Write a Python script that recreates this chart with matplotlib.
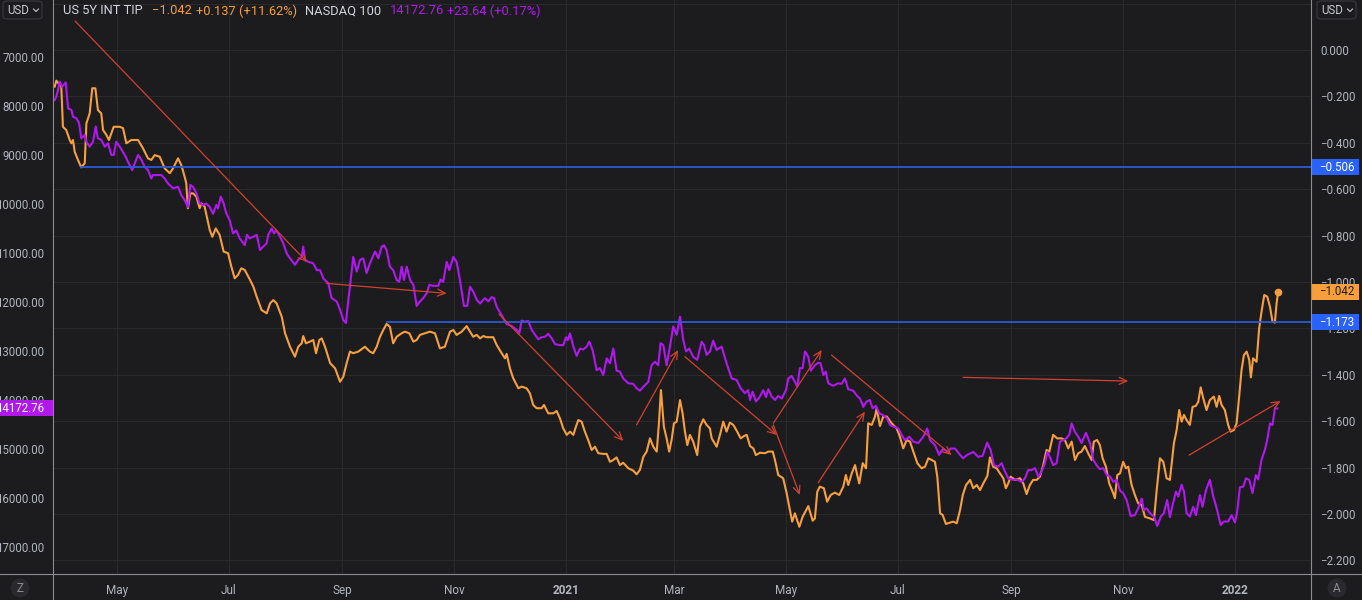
# US 5Y INT TIP (eixo direito) contra NASDAQ 100 (eixo esquerdo, invertido), estilo TradingView escuro.

import pandas as pd
import matplotlib
matplotlib.use('Agg')
import matplotlib.pyplot as plt
import matplotlib.dates as mdates
import matplotlib.transforms as mtransforms
from matplotlib.patches import Rectangle, FancyBboxPatch, Circle
from matplotlib.lines import Line2D

plt.rcParams['font.family'] = ['Roboto', 'DejaVu Sans']

# Dados (dias contados a partir de 27/03/2020)
inicio = pd.Timestamp('2020-03-27')

tip_dias = [1.0, 1.9, 3.7, 4.6, 5.5, 7.3, 9.2, 10.1, 11.0, 11.9, 13.7, 15.5, 17.4, 18.3, 20.1, 21.5, 23.2, 24.6,
            26.4, 27.4, 29.2, 30.6, 31.9, 33.2, 36.5, 38.3, 40.1, 42.8, 46.5, 49.2, 51.9, 53.7, 55.6, 58.3, 61.0,
            63.8, 65.6, 68.3, 70.1, 71.9, 72.8, 73.7, 75.0, 76.5, 78.3, 80.1, 81.0, 82.8, 85.6, 87.0, 88.9, 91.0,
            93.2, 95.6, 97.4, 99.2, 101.0, 102.8, 104.7, 107.6, 109.4, 111.2, 113.9, 116.7, 118.5, 120.3, 122.1,
            124.9, 126.7, 129.4, 132.1, 133.9, 135.8, 136.6, 138.1, 140.3, 142.1, 143.6, 145.4, 146.7, 148.5,
            151.3, 154.0, 156.7, 158.5, 160.3, 162.1, 163.9, 166.7, 170.3, 173.0, 174.8, 176.7, 178.5, 180.3,
            182.1, 183.9, 185.7, 187.6, 190.3, 192.1, 194.5, 196.7, 198.5, 200.3, 203.0, 205.8, 208.5, 211.2,
            213.9, 216.7, 218.5, 220.3, 223.1, 225.8, 227.6, 229.4, 231.3, 233.1, 234.9, 236.7, 240.3, 242.2,
            244.9, 246.7, 247.6, 249.4, 251.2, 254.0, 255.8, 258.5, 260.3, 262.1, 264.0, 266.7, 268.0, 270.3,
            273.0, 274.9, 276.7, 278.5, 280.4, 282.2, 284.0, 285.4, 286.7, 288.5, 290.3, 292.1, 294.0, 295.8,
            297.6, 300.3, 302.2, 304.0, 305.8, 307.6, 309.4, 311.2, 314.0, 316.7, 318.5, 320.3, 322.2, 324.0,
            325.8, 327.6, 329.5, 330.7, 331.8, 333.4, 334.9, 336.3, 337.6, 338.9, 340.4, 342.2, 343.6, 344.9,
            346.2, 347.6, 349.4, 351.6, 353.1, 354.9, 356.7, 358.5, 359.5, 362.2, 364.0, 365.8, 367.6, 369.4,
            371.3, 373.4, 375.3, 377.1, 378.6, 380.4, 382.2, 383.6, 385.8, 388.5, 390.4, 392.8, 394.0, 395.8,
            398.5, 400.4, 402.2, 403.4, 404.9, 407.3, 409.1, 412.2, 414.6, 415.8, 417.1, 418.5, 420.7, 422.5,
            424.4, 426.7, 429.1, 431.3, 432.7, 434.0, 435.9, 437.7, 438.9, 440.0, 441.9, 443.7, 444.9, 446.8,
            448.6, 449.5, 451.3, 453.1, 455.0, 457.7, 460.4, 462.2, 464.0, 465.9, 467.7, 469.5, 471.7, 474.0,
            475.9, 477.7, 479.5, 481.3, 482.6, 484.1, 485.5, 487.3, 489.5, 491.3, 493.2, 495.0, 496.5, 498.3,
            500.5, 502.2, 504.1, 505.9, 507.7, 509.9, 511.3, 513.1, 515.0, 516.8, 518.6, 520.0, 521.3, 522.6,
            525.0, 527.7, 529.5, 531.3, 533.1, 534.9, 536.8, 538.6, 540.4, 542.2, 543.7, 545.8, 548.0, 550.4,
            552.2, 554.0, 555.9, 557.7, 559.5, 561.3, 563.1, 564.9, 566.8, 568.0, 569.8, 571.3, 572.8, 574.6,
            576.4, 578.6, 579.5, 580.8, 582.3, 584.0, 585.5, 586.8, 588.6, 590.4, 592.2, 594.1, 595.9, 598.6,
            600.8, 602.3, 604.1, 605.9, 607.7, 609.5, 611.7, 613.2, 614.6, 615.9, 617.2, 618.6, 620.4, 621.9,
            623.7, 625.0, 626.3, 627.7, 629.5, 631.3, 633.5, 635.0, 636.4, 637.7, 639.5, 641.3, 642.6, 644.4,
            645.9, 647.3, 648.6, 649.9, 651.4, 652.8, 653.7, 654.9, 656.8, 658.2, 659.5, 661.0, 662.6, 664.1,
            665.5, 666.8, 667.7, 668.6]
tip_valores = [-0.158, -0.132, -0.151, -0.158, -0.331, -0.345, -0.388, -0.402, -0.388, -0.438, -0.474, -0.506,
               -0.488, -0.316, -0.273, -0.165, -0.165, -0.259, -0.273, -0.345, -0.366, -0.388, -0.359, -0.331,
               -0.331, -0.337, -0.402, -0.388, -0.388, -0.424, -0.467, -0.474, -0.453, -0.460, -0.510, -0.531,
               -0.510, -0.467, -0.496, -0.546, -0.575, -0.682, -0.618, -0.618, -0.632, -0.682, -0.661, -0.675,
               -0.776, -0.805, -0.769, -0.797, -0.869, -0.876, -0.934, -0.984, -0.970, -0.941, -0.948, -0.991,
               -1.020, -1.063, -1.121, -1.135, -1.092, -1.078, -1.092, -1.150, -1.221, -1.279, -1.322, -1.279,
               -1.264, -1.233, -1.264, -1.257, -1.250, -1.307, -1.250, -1.243, -1.279, -1.350, -1.372, -1.430,
               -1.408, -1.350, -1.300, -1.307, -1.300, -1.279, -1.300, -1.307, -1.279, -1.236, -1.207, -1.181,
               -1.193, -1.264, -1.236, -1.221, -1.214, -1.221, -1.257, -1.250, -1.228, -1.221, -1.214, -1.221,
               -1.286, -1.279, -1.214, -1.207, -1.228, -1.214, -1.190, -1.214, -1.236, -1.228, -1.243, -1.233,
               -1.238, -1.238, -1.272, -1.307, -1.329, -1.310, -1.372, -1.415, -1.458, -1.451, -1.458, -1.480,
               -1.530, -1.544, -1.544, -1.530, -1.566, -1.566, -1.556, -1.588, -1.631, -1.659, -1.645, -1.659,
               -1.624, -1.595, -1.602, -1.645, -1.681, -1.724, -1.710, -1.738, -1.741, -1.741, -1.775, -1.767,
               -1.756, -1.789, -1.779, -1.803, -1.813, -1.829, -1.810, -1.753, -1.731, -1.674, -1.710, -1.731,
               -1.609, -1.466, -1.624, -1.674, -1.731, -1.681, -1.609, -1.602, -1.509, -1.566, -1.645, -1.703,
               -1.659, -1.688, -1.746, -1.624, -1.592, -1.616, -1.631, -1.674, -1.710, -1.659, -1.602, -1.645,
               -1.606, -1.616, -1.645, -1.674, -1.664, -1.659, -1.707, -1.717, -1.746, -1.736, -1.738, -1.731,
               -1.731, -1.767, -1.832, -1.846, -1.911, -1.983, -2.033, -1.997, -2.055, -2.012, -1.966, -2.029,
               -2.019, -1.904, -1.882, -1.889, -1.947, -1.918, -1.908, -1.918, -1.882, -1.832, -1.875, -1.825,
               -1.789, -1.832, -1.868, -1.781, -1.803, -1.609, -1.616, -1.580, -1.544, -1.621, -1.580, -1.580,
               -1.609, -1.631, -1.667, -1.717, -1.681, -1.688, -1.731, -1.781, -1.803, -1.796, -1.760, -1.767,
               -1.775, -1.839, -1.997, -2.004, -2.043, -2.037, -2.033, -2.040, -1.983, -1.918, -1.875, -1.853,
               -1.889, -1.875, -1.897, -1.868, -1.836, -1.756, -1.796, -1.803, -1.825, -1.846, -1.889, -1.868,
               -1.839, -1.853, -1.846, -1.868, -1.914, -1.875, -1.853, -1.853, -1.839, -1.789, -1.724, -1.731,
               -1.659, -1.674, -1.674, -1.681, -1.717, -1.688, -1.767, -1.738, -1.731, -1.707, -1.738, -1.767,
               -1.688, -1.681, -1.703, -1.760, -1.796, -1.868, -1.911, -1.932, -1.832, -1.825, -1.775, -1.803,
               -1.796, -1.875, -1.918, -1.954, -1.961, -2.012, -2.019, -2.026, -1.897, -1.760, -1.775, -1.846,
               -1.853, -1.695, -1.638, -1.552, -1.602, -1.573, -1.595, -1.616, -1.538, -1.534, -1.516, -1.454,
               -1.501, -1.552, -1.509, -1.494, -1.538, -1.491, -1.530, -1.552, -1.616, -1.645, -1.638, -1.609,
               -1.494, -1.379, -1.315, -1.300, -1.336, -1.411, -1.329, -1.344, -1.200, -1.128, -1.056, -1.063,
               -1.106, -1.171, -1.175, -1.092, -1.042]

ndx_dias = [1.0, 1.9, 2.8, 3.7, 5.0, 5.9, 7.0, 8.3, 10.1, 11.0, 12.8, 14.3, 15.5, 17.4, 18.3, 20.1, 21.9, 23.4,
            24.6, 26.4, 28.3, 30.1, 31.9, 33.2, 34.6, 36.5, 39.2, 41.0, 43.3, 44.7, 46.5, 48.3, 50.1, 51.9, 53.7,
            54.6, 56.4, 59.2, 61.0, 62.8, 65.6, 68.3, 70.1, 71.9, 73.7, 75.0, 76.5, 78.3, 80.1, 81.9, 83.7, 85.6,
            87.4, 89.2, 90.1, 91.6, 93.2, 94.6, 96.5, 98.3, 100.1, 101.9, 104.7, 105.9, 107.4, 109.4, 111.2,
            113.0, 114.8, 116.7, 117.5, 119.4, 120.7, 121.8, 124.0, 125.7, 127.6, 129.4, 132.1, 133.9, 135.8,
            136.6, 137.6, 139.4, 142.1, 144.0, 145.8, 147.6, 150.3, 152.1, 154.9, 156.7, 158.5, 159.9, 161.2,
            162.1, 163.9, 165.8, 167.6, 169.4, 171.2, 173.0, 175.8, 177.6, 179.4, 180.7, 182.1, 183.9, 185.7,
            187.6, 189.0, 190.3, 191.6, 193.1, 194.9, 196.7, 198.5, 200.3, 202.1, 204.0, 205.4, 207.6, 210.3,
            211.6, 213.0, 214.9, 216.3, 218.5, 220.3, 222.1, 224.3, 226.1, 227.6, 229.4, 231.3, 233.1, 235.8,
            237.6, 239.4, 240.7, 242.2, 244.9, 247.6, 250.3, 253.1, 254.5, 255.8, 257.6, 259.4, 261.3, 263.1,
            264.9, 266.7, 268.5, 270.3, 272.2, 274.0, 276.7, 278.5, 280.0, 280.9, 282.2, 284.0, 285.8, 287.6,
            289.4, 291.3, 292.7, 294.5, 296.7, 298.5, 300.3, 302.2, 304.0, 305.8, 307.6, 309.4, 311.2, 314.0,
            316.7, 318.5, 320.3, 322.2, 324.9, 326.7, 328.5, 330.3, 331.6, 333.1, 334.9, 336.7, 338.5, 340.4,
            342.2, 344.0, 345.5, 347.2, 349.4, 351.6, 354.0, 355.3, 356.7, 358.5, 360.3, 362.2, 364.9, 367.6,
            370.4, 373.1, 375.3, 377.6, 379.4, 380.4, 381.8, 383.6, 385.8, 387.6, 389.1, 390.4, 392.2, 394.0,
            395.8, 397.7, 400.0, 401.3, 403.1, 404.9, 406.2, 407.6, 409.1, 410.4, 412.2, 413.6, 415.8, 417.6,
            418.9, 420.4, 421.7, 423.1, 425.8, 428.5, 430.4, 432.2, 434.0, 436.7, 438.9, 440.4, 442.2, 444.0,
            445.8, 447.3, 449.1, 450.9, 453.1, 455.0, 456.8, 458.5, 461.3, 463.1, 464.9, 467.3, 469.5, 472.2,
            474.9, 477.1, 478.6, 481.3, 483.6, 485.8, 488.0, 489.9, 492.2, 495.0, 496.7, 498.9, 502.2, 504.9,
            507.3, 509.8, 511.7, 513.5, 515.8, 517.7, 519.5, 521.3, 524.0, 525.9, 528.6, 530.4, 532.2, 534.1,
            535.9, 537.7, 539.5, 541.3, 542.6, 544.0, 545.8, 547.7, 549.5, 551.3, 553.1, 554.6, 555.9, 557.7,
            559.5, 561.3, 563.7, 565.9, 567.7, 569.5, 571.3, 573.1, 575.0, 576.8, 578.6, 580.4, 582.3, 584.0,
            585.9, 588.1, 590.4, 592.2, 594.1, 595.3, 596.8, 598.6, 600.8, 602.6, 604.5, 606.2, 608.0, 609.5,
            611.0, 612.8, 614.1, 615.9, 617.2, 618.6, 620.4, 622.2, 623.7, 625.9, 627.3, 629.2, 631.3, 633.2,
            635.3, 637.2, 639.0, 641.3, 643.2, 645.0, 646.2, 647.7, 649.5, 651.0, 652.8, 654.6, 656.4, 657.7,
            659.5, 661.3, 662.6, 664.1, 665.5, 666.8, 668.1]
ndx_valores = [7880, 7810, 7670, 7500, 7610, 7570, 7520, 8050, 8080, 8220, 8250, 8350, 8660, 8590, 8730, 8830,
               8730, 8420, 8660, 8690, 8830, 8760, 9000, 9000, 8730, 8830, 9000, 9140, 9310, 9170, 9000, 9100,
               9240, 9310, 9480, 9410, 9410, 9410, 9480, 9580, 9680, 9650, 9820, 9920, 10060, 9610, 9650, 9780,
               9990, 10020, 9990, 10060, 10200, 10020, 10090, 9850, 9990, 10190, 10330, 10600, 10540, 10700,
               10840, 10630, 10700, 10670, 10630, 10940, 10870, 10800, 10630, 10500, 10600, 10530, 10670, 10800,
               11010, 11110, 11240, 11140, 11080, 10870, 11140, 11180, 11210, 11350, 11350, 11520, 11620, 11920,
               11990, 12160, 12370, 12430, 11960, 11690, 11080, 11380, 11140, 11110, 11410, 11210, 10970, 11110,
               10870, 10840, 10940, 11280, 11350, 11550, 11590, 11280, 11550, 11280, 11550, 11650, 12080, 11990,
               11920, 11820, 11650, 11670, 11670, 11540, 11590, 11180, 11350, 11080, 11180, 11550, 12080, 12080,
               11690, 11790, 11960, 12030, 11920, 11990, 11900, 11920, 12100, 12270, 12450, 12490, 12570, 12640,
               12380, 12400, 12390, 12570, 12670, 12760, 12720, 12710, 12650, 12740, 12860, 12880, 12880, 12720,
               12780, 12640, 12910, 13100, 12950, 12970, 12910, 12810, 12980, 13390, 13350, 13490, 13150, 13250,
               12950, 13400, 13420, 13560, 13660, 13670, 13760, 13810, 13730, 13630, 13290, 13220, 13290, 12840,
               12880, 13290, 12910, 12500, 12670, 12300, 12780, 13010, 12950, 13120, 13180, 12810, 12880, 13080,
               13010, 12790, 12980, 12910, 13250, 13560, 13590, 13760, 13860, 13800, 14000, 13830, 14030, 13930,
               13800, 13940, 13780, 13930, 14000, 13920, 13970, 13800, 13560, 13510, 13630, 13730, 13350, 13350,
               13010, 13120, 13400, 13290, 13240, 13250, 13490, 13420, 13660, 13710, 13660, 13670, 13560, 13780,
               13810, 13920, 13970, 14140, 14030, 14000, 14170, 14120, 14270, 14310, 14370, 14510, 14540, 14580,
               14710, 14820, 14750, 14850, 14880, 14750, 14580, 14820, 14920, 15120, 14990, 15060, 14990, 14990,
               15120, 15190, 15120, 15060, 15160, 15140, 14870, 15020, 15330, 15360, 15290, 15460, 15600, 15630,
               15620, 15670, 15600, 15430, 15430, 15390, 15570, 15460, 15290, 15060, 15160, 15330, 15290, 14850,
               14820, 14780, 14710, 14480, 14650, 14750, 14880, 14670, 14880, 15220, 15330, 15410, 15390, 15530,
               15560, 15670, 15630, 15850, 15900, 16040, 16370, 16350, 16210, 16010, 16250, 16210, 16310, 16380,
               16570, 16380, 16310, 16040, 16390, 16140, 15870, 15970, 15730, 15870, 16310, 16380, 16180, 16350,
               15940, 16180, 15840, 15630, 15970, 16250, 16550, 16480, 16480, 16350, 16500, 16280, 15780, 15770,
               15600, 15630, 15900, 15530, 15620, 15220, 15020, 14820, 14480, 14510, 14170, 14172.76]

# Níveis horizontais (azul): valor no eixo do TIP e dia onde começam
niveis_valor = [-0.506, -1.173]
niveis_inicio = [15.4, 182.3]

# Setas de tendência desenhadas à mão: (dia0, tip0, dia1, tip1)
setas = [(12.1, 0.125, 138.7, -0.914),
         (149.4, -1.006, 214.9, -1.049),
         (243.4, -1.138, 311.3, -1.685),
         (318.5, -1.616, 341.2, -1.293),
         (344.9, -1.322, 394.9, -1.659),
         (393.1, -1.616, 407.6, -1.918),
         (393.1, -1.609, 419.5, -1.293),
         (417.6, -1.865, 443.1, -1.559),
         (424.9, -1.315, 490.4, -1.746),
         (496.7, -1.411, 586.8, -1.427),
         (620.0, -1.746, 669.9, -1.513)]

meses = ['2020-05-01', '2020-07-01', '2020-09-01', '2020-11-01', '2021-01-01', '2021-03-01',
         '2021-05-01', '2021-07-01', '2021-09-01', '2021-11-01', '2022-01-01']
rotulos_meses = ['May', 'Jul', 'Sep', 'Nov', '2021', 'Mar', 'May', 'Jul', 'Sep', 'Nov', '2022']

tip_ticks = [0.2, 0.0, -0.2, -0.4, -0.6, -0.8, -1.0, -1.2, -1.4, -1.6, -1.8, -2.0, -2.2]
ndx_ticks = [7000, 8000, 9000, 10000, 11000, 12000, 13000, 14000, 15000, 16000, 17000]

# Cores
fundo = '#1c1c1f'
grade = '#2a2a2d'
texto = '#b2b5be'
laranja = '#f7a03b'
roxo = '#b118ee'
azul = '#2962ff'
vermelho = '#d2412f'

W, H = 1362, 600
fig = plt.figure(figsize=(W / 100, H / 100), dpi=100, facecolor=fundo)
ax = fig.add_axes([53 / W, 26 / H, (1311 - 53) / W, 574 / H])
ax.set_facecolor(fundo)
ax2 = ax.twinx()

def dia(d):
    return inicio + pd.Timedelta(days=d)

def num(d):
    return mdates.date2num(dia(d))

tip_datas = inicio + pd.to_timedelta(tip_dias, unit='D')
ndx_datas = inicio + pd.to_timedelta(ndx_dias, unit='D')

ax.plot(tip_datas, tip_valores, color=laranja, lw=1.5, zorder=3)
ax.plot(tip_datas[-1], tip_valores[-1], 'o', color=laranja, ms=4.5, zorder=4)
ax2.plot(ndx_datas, ndx_valores, color=roxo, lw=1.5, zorder=3)

ax.set_xlim(dia(0.08), dia(686.5))
ax.set_ylim(-2.2586, 0.2155)
ax2.set_ylim(17551, 5837)

# Linhas azuis e setas por cima de tudo (coordenadas do eixo do TIP)
for v, d0 in zip(niveis_valor, niveis_inicio):
    ax2.plot([num(d0), num(686.5)], [v, v], color='#2b5ad8', lw=1.3, transform=ax.transData, zorder=5)

for d0, v0, d1, v1 in setas:
    ax2.annotate('', xy=(num(d1), v1), xytext=(num(d0), v0),
                 xycoords=ax.transData, textcoords=ax.transData,
                 arrowprops=dict(arrowstyle='->,head_length=0.55,head_width=0.25',
                                 color=vermelho, lw=0.9, shrinkA=0, shrinkB=0), zorder=6)

# Eixos e grade
ax.set_xticks(pd.to_datetime(meses))
ax.set_xticklabels(rotulos_meses)
for rot in ax.get_xticklabels():
    if rot.get_text().startswith('20'):
        rot.set_fontweight('bold')

ax.yaxis.tick_right()
ax.set_yticks(tip_ticks)
ax.set_yticklabels(['' if t > 0.1 else f'{t:.3f}'.replace('-', '\u2212') for t in tip_ticks])
ax2.yaxis.tick_left()
ax2.set_yticks(ndx_ticks)
ax2.set_yticklabels([f'{n:.2f}' for n in ndx_ticks])

ax.grid(True, color=grade, lw=0.8)
ax.tick_params(axis='x', length=0, pad=7, colors=texto, labelsize=8.5)
ax.tick_params(axis='y', length=0, pad=6.5, colors=texto, labelsize=8.3)
ax2.tick_params(axis='y', length=0, pad=6.5, colors=texto, labelsize=8.3)
for a in (ax, ax2):
    for s in a.spines.values():
        s.set_visible(False)

# Etiquetas de preço nos eixos
direita = mtransforms.blended_transform_factory(ax.transAxes, ax.transData)
esquerda = mtransforms.blended_transform_factory(ax2.transAxes, ax2.transData)
larg = 48 / (1311 - 53)
for v, fc, cor_txt in [(-0.506, azul, 'white'), (-1.173, azul, 'white'), (-1.042, laranja, '#1c1c1f')]:
    ax.add_patch(Rectangle((1.0, v - 0.0345), larg, 0.069, transform=direita, fc=fc, ec='none',
                           clip_on=False, zorder=10))
    ax.text(1.0 + 8 / 1258, v, f'{v:.3f}'.replace('-', '\u2212'), transform=direita, ha='left',
            va='center', color=cor_txt, fontsize=8.3, clip_on=False, zorder=11)

ax2.add_patch(Rectangle((-53 / 1258, 14172.76 - 163), 53 / 1258, 326, transform=esquerda, fc=roxo,
                        ec='none', clip_on=False, zorder=10))
ax2.text(-9 / 1258, 14172.76, '14172.76', transform=esquerda, ha='right', va='center', color='white',
         fontsize=8.3, clip_on=False, zorder=11)

# Separadores do painel
for x in (53, 1311):
    fig.add_artist(Line2D([x / W, x / W], [0, 1], color='#8a8b90', lw=0.8))
fig.add_artist(Line2D([0, 1], [26 / H, 26 / H], color='#8a8b90', lw=0.8))

# Legenda no topo
y_leg = 1 - 11 / H
fig.text(63 / W, y_leg, 'US 5Y INT TIP', color='#d1d4dc', fontsize=9.3, va='center')
fig.text(152 / W, y_leg, '\u22121.042', color=laranja, fontsize=9.3, va='center')
fig.text(196 / W, y_leg, '+0.137 (+11.62%)', color=laranja, fontsize=9.3, va='center')
fig.text(305 / W, y_leg, 'NASDAQ 100', color='#d1d4dc', fontsize=9.3, va='center')
fig.text(390 / W, y_leg, '14172.76', color=roxo, fontsize=9.3, va='center')
fig.text(447 / W, y_leg, '+23.64 (+0.17%)', color=roxo, fontsize=9.3, va='center')

# Botões USD e círculos dos cantos
for x0 in (3, 1317):
    fig.add_artist(FancyBboxPatch((x0 / W, 1 - 19 / H), 39 / W, 18 / H,
                                  boxstyle='round,pad=0,rounding_size=0.004',
                                  fc=fundo, ec='#3a3a3e', lw=0.8, transform=fig.transFigure))
    fig.text((x0 + 4) / W, 1 - 10 / H, 'USD', color='#c8cad0', fontsize=8.3, va='center')
    cx = x0 + 33
    fig.add_artist(Line2D([(cx - 2.5) / W, cx / W, (cx + 2.5) / W],
                          [1 - 9 / H, 1 - 11.5 / H, 1 - 9 / H], color='#c8cad0', lw=0.8))

for cx, letra in [(20, 'Z'), (1337, 'A')]:
    fig.add_artist(Circle((cx / 100, (H - 588) / 100), 0.095, transform=fig.dpi_scale_trans,
                          fc='#2a2a2e', ec='none'))
    fig.text(cx / W, (H - 588) / H, letra, color='#8a8b90', fontsize=8.5, ha='center', va='center')

fig.savefig('out.png', dpi=100, facecolor=fundo)
